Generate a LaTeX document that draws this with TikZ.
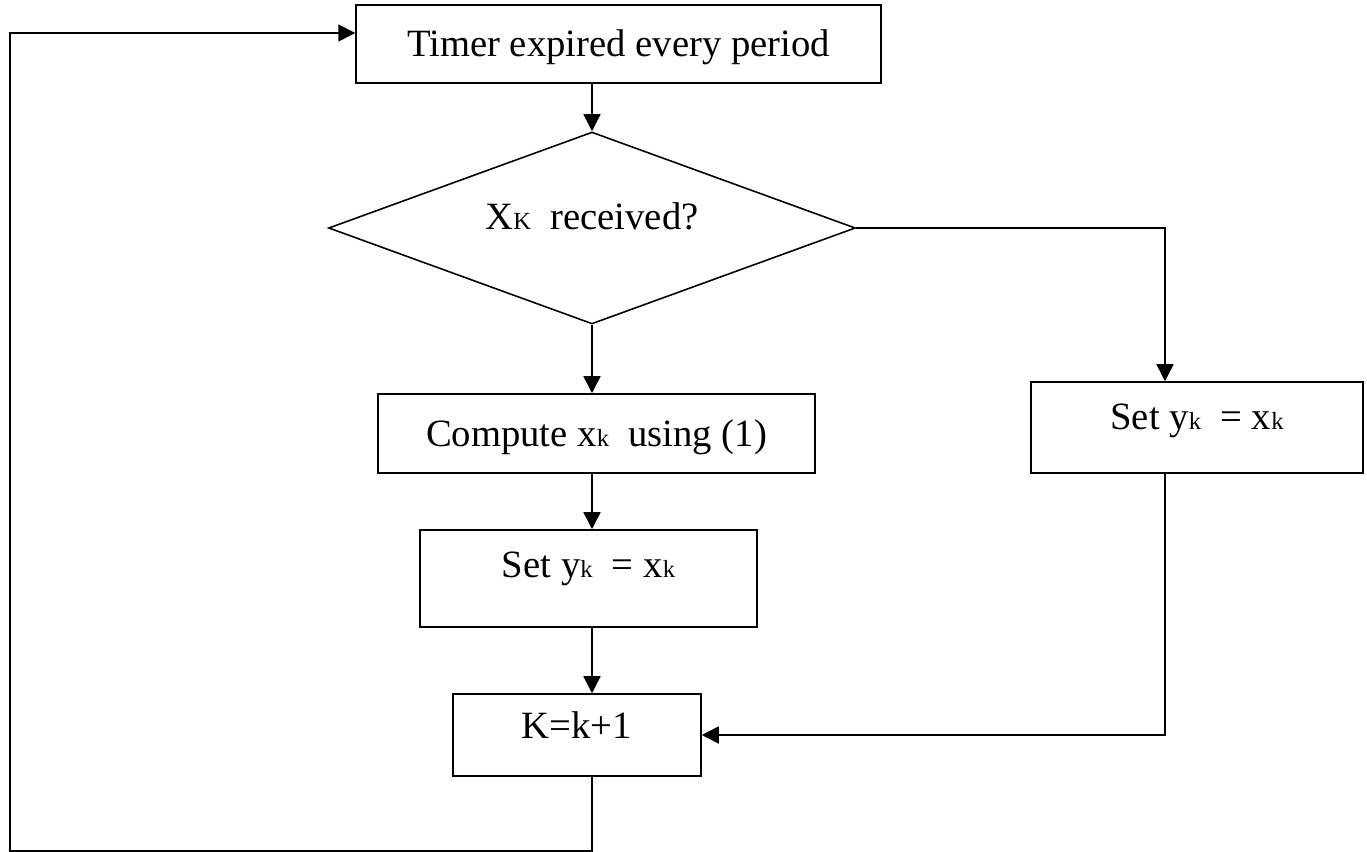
\documentclass[tikz,border=0pt]{standalone}
\usepackage{fontspec}
\setmainfont{Liberation Serif}
\usetikzlibrary{arrows.meta,positioning,shapes.geometric,calc}
\newcommand{\kidx}[1]{{\fontsize{14}{16}\selectfont #1}}
\tikzset{
  block/.style={
    draw=black,
    line width=0.9pt,
    align=center,
    inner sep=0pt,
    text height=0.5cm,
    text depth=0cm,
    font=\fontsize{22}{26}\selectfont
  },
  decision/.style={
    block,
    shape=diamond,
    aspect=2.74
  },
  raised/.style={text depth=#1},
  line/.style={-{Triangle[length=0.34cm,width=0.34cm]}, line width=0.9pt}
}

\begin{document}
\begin{tikzpicture}[x=0.02cm, y=-0.02cm]
        \useasboundingbox (0,0) rectangle (1367,852);
        \node[block, minimum width=10.5cm, minimum height=1.56cm] (timer) at (618.5,44) {Timer expired every period};
        \node[decision, minimum width=10.54cm, minimum height=3.84cm, raised=0.45cm] (chk) at (592,228) {X\kidx{K}\ \ received?};
        \node[block, minimum width=8.74cm, minimum height=1.58cm] (comp) at (596.5,433.5) {Compute x\kidx{k}\ \ using (1)};
        \node[block, minimum width=6.74cm, minimum height=1.94cm, raised=0.55cm] (setl) at (588.5,578.5) {Set y\kidx{k}\ \ = x\kidx{k}};
        \node[block, minimum width=6.64cm, minimum height=1.82cm, raised=0.43cm] (setr) at (1197,427.5) {Set y\kidx{k}\ \ = x\kidx{k}};
        \node[block, minimum width=4.96cm, minimum height=1.64cm, raised=0.35cm] (inc) at (577,735) {K=k+1};
        % turning points of the side branch and the loop
        \coordinate (rturn) at (1165,228);
        \coordinate (loopbl) at (10,851);
        \coordinate (looptl) at (10,33);
        \draw[line] (timer.south -| chk.north) -- (chk.north);
        \draw[line] (chk.south) -- (chk.south |- comp.north);
        \draw[line] (chk.south |- comp.south) -- (chk.south |- setl.north);
        \draw[line] (chk.south |- setl.south) -- (chk.south |- inc.north);
        \draw[line] (chk.east) -- (rturn) -- (rturn |- setr.north);
        \draw[line] (rturn |- setr.south) -- (rturn |- inc.east) -- (inc.east);
        \draw[line] (chk.south |- inc.south) -- (chk.south |- loopbl) -- (loopbl) -- (looptl) -- (looptl -| timer.west);
      \end{tikzpicture}
\end{document}
